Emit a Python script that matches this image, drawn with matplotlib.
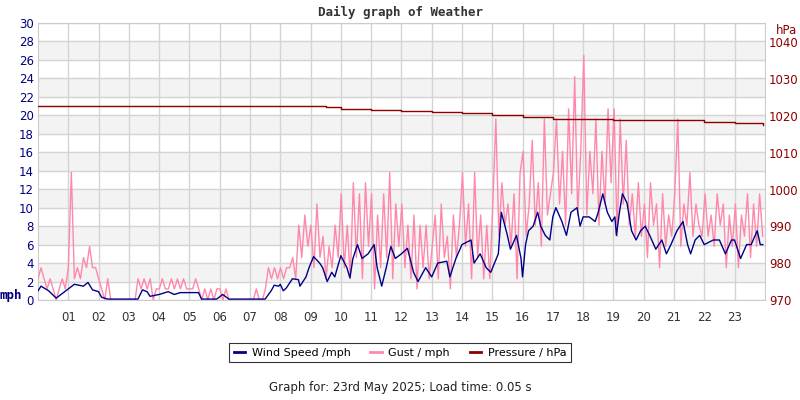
import numpy as np
import matplotlib
matplotlib.use("Agg")
import matplotlib.pyplot as plt

wind_t = [0,0.1,0.35,0.6,1.0,1.2,1.5,1.65,1.8,2.0,2.1,2.3,3.3,3.45,3.6,3.7,4.0,4.3,4.5,4.7,5.3,5.4,5.9,6.1,6.3,7.5,7.7,7.8,7.95,8.0,8.1,8.2,8.4,8.6,8.65,8.85,8.95,9.1,9.3,9.4,9.55,9.7,9.8,10.0,10.2,10.3,10.4,10.55,10.7,10.9,11.1,11.2,11.35,11.5,11.65,11.8,12.0,12.2,12.4,12.55,12.8,13.0,13.2,13.5,13.6,13.8,14.0,14.3,14.4,14.6,14.8,14.95,15.2,15.3,15.5,15.6,15.8,15.95,16.0,16.1,16.2,16.35,16.5,16.6,16.75,16.9,17.0,17.1,17.3,17.45,17.6,17.8,17.9,18.0,18.2,18.4,18.5,18.65,18.8,18.95,19.05,19.1,19.2,19.3,19.45,19.6,19.75,19.9,20.05,20.2,20.4,20.6,20.75,20.9,21.1,21.3,21.45,21.55,21.7,21.85,22.0,22.3,22.5,22.7,22.9,23.0,23.2,23.4,23.55,23.75,23.85,23.93]
wind_v = [1.0,1.5,1.0,0.2,1.2,1.7,1.5,1.9,1.1,0.9,0.3,0.1,0.1,1.1,0.9,0.4,0.6,0.9,0.6,0.8,0.8,0.1,0.1,0.6,0.1,0.1,1.0,1.6,1.5,1.7,1.0,1.3,2.3,2.2,1.5,2.5,3.5,4.7,4.0,3.5,2.0,3.0,2.5,4.8,3.5,2.4,4.5,6.0,4.5,5.0,6.0,3.5,1.5,3.5,5.8,4.5,5.0,5.6,3.0,2.0,3.5,2.5,4.0,4.2,2.5,4.5,6.0,6.5,4.0,5.0,3.5,3.0,5.0,9.5,7.0,5.5,7.0,4.5,2.5,6.0,7.5,8.0,9.5,8.0,7.0,6.5,9.0,10.0,8.5,7.0,9.5,10.0,8.0,9.0,9.0,8.5,9.5,11.5,9.5,8.5,9.0,7.0,9.5,11.5,10.5,7.5,6.5,7.5,8.0,7.0,5.5,6.5,5.0,6.0,7.5,8.5,6.0,5.0,6.5,7.0,6.0,6.5,6.5,5.0,6.5,6.5,4.5,6.0,6.0,7.5,6.0,6.0]

gust_v = [
 2.3,3.5,2.3,1.2,2.3,1.2,0,1.2,2.3,1.2,
 3.5,13.8,2.3,3.5,2.3,4.6,3.5,5.8,3.5,3.5,
 2.3,1.2,0,2.3,0,0,0,0,0,0,
 0,0,0,2.3,1.2,2.3,1.2,2.3,0,1.2,
 1.2,2.3,1.2,1.2,2.3,1.2,2.3,1.2,2.3,1.2,
 1.2,1.2,2.3,1.2,0,1.2,0,1.2,0,1.2,
 1.2,0,1.2,0,0,0,0,0,0,0,
 0,0,1.2,0,0,1.2,3.5,2.3,3.5,2.3,
 3.5,2.3,3.5,3.5,4.6,2.3,8.1,4.6,9.2,5.8,
 8.1,3.5,10.4,4.6,6.9,2.3,5.8,3.5,8.1,4.6,
 11.5,3.5,8.1,2.3,12.7,4.6,11.5,2.3,12.7,5.8,
 11.5,1.2,9.2,3.5,11.5,4.6,13.8,2.3,10.4,5.8,
 10.4,3.5,8.1,2.3,9.2,1.2,8.1,3.5,8.1,2.3,
 5.8,9.2,2.3,10.4,4.6,6.9,1.2,9.2,4.6,8.1,
 13.8,5.8,10.4,2.3,13.8,4.6,9.2,2.3,8.1,2.3,
 10.4,19.6,6.9,12.7,8.1,10.4,5.8,11.5,2.3,13.8,
 16.1,6.9,10.4,17.3,8.1,12.7,5.8,19.6,9.2,11.5,
 13.8,19.6,10.4,16.1,8.1,20.7,11.5,24.2,9.2,16.1,
 26.5,9.2,16.1,11.5,19.6,8.1,16.1,10.4,20.7,12.7,
 20.7,6.9,19.6,10.4,17.3,8.1,11.5,6.9,12.7,6.9,
 10.4,4.6,12.7,8.1,10.4,3.5,11.5,5.8,9.2,6.9,
 11.5,19.6,5.8,10.4,8.1,13.8,6.9,10.4,8.1,6.9,
 11.5,6.9,9.2,5.8,11.5,8.1,10.4,3.5,9.2,5.8,
 10.4,3.5,9.2,6.9,11.5,4.6,10.4,5.8,11.5,6.9]
gust_t = np.linspace(0, 23.93, len(gust_v))

pres_t = [0,1.7,7,9.5,10,11,12,13,14,15,16,17,18,19,20,21,22,23,23.93]
pres_v = [1022.8,1022.7,1022.7,1022.5,1022.0,1021.6,1021.5,1021.2,1020.8,1020.2,1019.7,1019.3,1019.1,1019.0,1019.0,1018.8,1018.5,1018.0,1017.7]

hour_labels = ["%02d" % h for h in range(1, 24)]

fig = plt.figure(figsize=(8, 4), dpi=100)
ax = fig.add_axes([0.0475, 0.25, 0.9085, 0.6925])
for lo in range(2, 30, 4):
    ax.axhspan(lo, lo + 2, color="#f3f3f3", zorder=0)
ax.set_xlim(0, 24)
ax.set_ylim(0, 30)
ax.set_yticks(range(0, 31, 2))
ax.set_xticks(range(1, 24))
ax.set_xticklabels(hour_labels)
ax.grid(True, color="#d4d4d4", lw=1, zorder=1)
ax.set_axisbelow(True)
ax.tick_params(length=0, labelsize=8.5)
ax.tick_params(axis="y", colors="#000080", pad=3)
ax.tick_params(axis="x", colors="#333333", pad=8)
for s in ax.spines.values():
    s.set_color("#cccccc")

ax.plot(gust_t, gust_v, color="#ff88aa", lw=1, zorder=3, label="Gust / mph")
ax.plot(wind_t, wind_v, color="#000088", lw=1, zorder=4, label="Wind Speed /mph")

ax2 = ax.twinx()
ax2.set_ylim(970, 1045.3)
ax2.set_yticks(range(970, 1041, 10))
ax2.tick_params(length=0, labelsize=8.5, colors="#8b0000", pad=3)
for s in ax2.spines.values():
    s.set_visible(False)
ax2.step(pres_t, pres_v, where="post", color="#8b0000", lw=1.0, label="Pressure / hPa")

fig.text(0.5, 0.97, "Daily graph of Weather", ha="center", va="center",
         fontsize=9, fontweight="bold", family="DejaVu Sans Mono", color="#333333")
fig.text(0.0, 0.262, "mph", ha="left", va="center", fontsize=9, fontweight="bold",
         family="DejaVu Sans Mono", color="#000080")
fig.text(0.97, 0.925, "hPa", ha="left", va="center", fontsize=8.5, color="#8b0000")
fig.text(0.5, 0.03, "Graph for: 23rd May 2025; Load time: 0.05 s", ha="center",
         va="center", fontsize=8.5, color="#222222")

h1, l1 = ax.get_legend_handles_labels()
h2, l2 = ax2.get_legend_handles_labels()
order = [1, 0]
leg = fig.legend([h1[i] for i in order] + h2, [l1[i] for i in order] + l2,
                 loc="center", bbox_to_anchor=(0.5, 0.118), ncol=3, fontsize=8,
                 frameon=True, fancybox=False, edgecolor="#000000",
                 handlelength=1.0, handletextpad=0.6, columnspacing=1.8, borderpad=0.4)
leg.get_frame().set_linewidth(0.8)
for line in leg.get_lines():
    line.set_linewidth(2)

fig.savefig("out.png", dpi=100)
